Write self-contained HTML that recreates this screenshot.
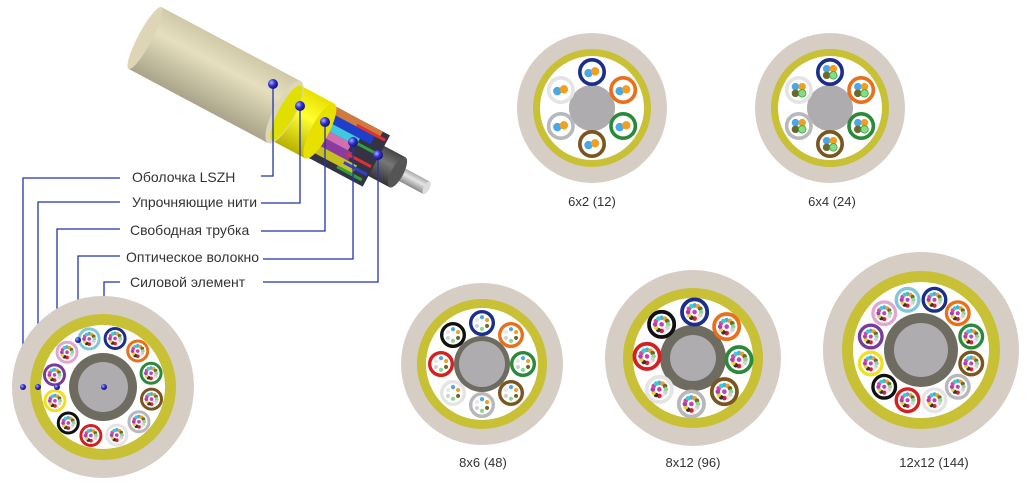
<!DOCTYPE html>
<html><head><meta charset="utf-8"><style>
html,body{margin:0;padding:0;background:#fff;}
svg{display:block;}
text{font-family:"Liberation Sans",sans-serif;fill:#333;}
</style></head><body>
<svg id="s" width="1031" height="494" viewBox="0 0 1031 494" xmlns="http://www.w3.org/2000/svg">
<defs>
<linearGradient id="jk" x1="0" y1="0" x2="0" y2="1"><stop offset="0" stop-color="#cfc9a8"/><stop offset="0.35" stop-color="#e6dfbf"/><stop offset="1" stop-color="#a9a48a"/></linearGradient>
<linearGradient id="yl" x1="0" y1="0" x2="0" y2="1"><stop offset="0" stop-color="#e8e000"/><stop offset="0.4" stop-color="#ffff30"/><stop offset="1" stop-color="#b8b000"/></linearGradient>
<linearGradient id="dk" x1="0" y1="0" x2="0" y2="1"><stop offset="0" stop-color="#444"/><stop offset="0.4" stop-color="#777"/><stop offset="1" stop-color="#333"/></linearGradient>
<linearGradient id="rd" x1="0" y1="0" x2="0" y2="1"><stop offset="0" stop-color="#aaa"/><stop offset="0.4" stop-color="#e4e4e4"/><stop offset="1" stop-color="#888"/></linearGradient>
<radialGradient id="dot" cx="0.35" cy="0.35" r="0.7"><stop offset="0" stop-color="#aab0ff"/><stop offset="0.5" stop-color="#3030d0"/><stop offset="1" stop-color="#101070"/></radialGradient>
</defs>
<!-- 3D cable -->
<g transform="translate(145,38) rotate(28)">
  <rect x="285" y="-7" width="34" height="14" fill="url(#rd)"/>
  <ellipse cx="319" cy="0" rx="3" ry="7" fill="#ddd"/>
  <rect x="240" y="-17" width="46" height="34" fill="url(#dk)"/>
  <ellipse cx="286" cy="0" rx="6" ry="17" fill="#555"/>
  <g>
    <rect x="192" y="-29" width="70" height="58" fill="#334"/>
    <rect x="192" y="-29" width="62" height="8" fill="#d07a40"/>
    <rect x="192" y="-21" width="57" height="9" fill="#1d3fcc"/>
    <rect x="192" y="-12" width="45" height="8" fill="#40c8e0"/>
    <rect x="192" y="-4" width="40" height="8" fill="#d070b0"/>
    <rect x="192" y="4" width="45" height="9" fill="#8a3aa0"/>
    <rect x="192" y="13" width="55" height="9" fill="#c8c020"/>
    <rect x="228" y="-24" width="32" height="3" fill="#e03030"/>
    <rect x="232" y="-8" width="28" height="3" fill="#30a040"/>
    <rect x="232" y="6" width="28" height="3" fill="#e03030"/>
    <rect x="234" y="15" width="26" height="3" fill="#3040d0"/>
    <rect x="230" y="22" width="28" height="3" fill="#30a040"/>
  </g>
  <rect x="158" y="-31" width="40" height="62" fill="url(#yl)"/>
  <ellipse cx="198" cy="0" rx="9" ry="31" fill="#e8e000"/>
  <rect x="0" y="-35" width="158" height="70" fill="url(#jk)"/>
  <ellipse cx="0" cy="0" rx="7" ry="35" fill="#ddd5b5"/>
  <ellipse cx="158" cy="0" rx="11" ry="35" fill="#ddd6b8"/>
  <ellipse cx="160" cy="0" rx="8" ry="31" fill="#e0e000"/>
</g>
<g id="lines" stroke="#2233aa" stroke-width="1.3" fill="none">
  <polyline points="120,178 23,178 23,387"/>
  <polyline points="120,202 38,202 38,387"/>
  <polyline points="120,229 57,229 57,387"/>
  <polyline points="120,256 78,256 78,340"/>
  <polyline points="120,282 104,282 104,387"/>
  <polyline points="261,176 273,176 273,84"/>
  <polyline points="261,203 300,203 300,106"/>
  <polyline points="261,231 325,231 325,122"/>
  <polyline points="263,259 353,259 353,142"/>
  <polyline points="263,282 378,282 378,155"/>
</g>
<text x="132" y="182" font-size="14">Оболочка LSZH</text>
<text x="132" y="207" font-size="14">Упрочняющие нити</text>
<text x="130" y="235" font-size="14">Свободная трубка</text>
<text x="126" y="262" font-size="14">Оптическое волокно</text>
<text x="130" y="287" font-size="14">Силовой элемент</text>
<text x="592" y="206" font-size="13" text-anchor="middle">6x2 (12)</text>
<text x="832" y="206" font-size="13" text-anchor="middle">6x4 (24)</text>
<text x="483" y="467" font-size="13" text-anchor="middle">8x6 (48)</text>
<text x="693" y="467" font-size="13" text-anchor="middle">8x12 (96)</text>
<text x="934" y="467" font-size="13" text-anchor="middle">12x12 (144)</text>
<g id="cs"></g>
<g id="dots"></g>
</svg>
<script>
var NS="http://www.w3.org/2000/svg";
var cs=document.getElementById("cs"),dg=document.getElementById("dots");
function c(p,x,y,r,f,s,sw){var e=document.createElementNS(NS,"circle");e.setAttribute("cx",x);e.setAttribute("cy",y);e.setAttribute("r",r);e.setAttribute("fill",f||"none");if(s){e.setAttribute("stroke",s);e.setAttribute("stroke-width",sw);}p.appendChild(e);return e;}
var TC=["#1a2e8c","#e8701a","#2a8a3a","#7a5520","#b8b8bc","#e4e4e4","#d42020","#111111","#f0e020","#7a3a9a","#e0a8d0","#80c8d8"];
var FC=["#4aa8e8","#f0a020","#6a6a30","#8ad88a","#d0d0d0","#e8e8e8","#e02030","#333","#f0d030","#a040c0","#e040a0","#30d0d0"];
function cross(cx,cy,R,yo,yi,cd,cg,n,orbit,tr,fib,start){
  c(cs,cx,cy,R,"#d6cdc5");
  c(cs,cx,cy,yo,"#c8c035");
  c(cs,cx,cy,yi,"#ffffff");
  if(cd>cg)c(cs,cx,cy,cd,"#6e6b60");
  c(cs,cx,cy,cg,"#aeacae");
  for(var i=0;i<n;i++){
    var a=(start+i*360/n)*Math.PI/180;
    var x=cx+orbit*Math.cos(a),y=cy+orbit*Math.sin(a);
    var col=TC[i];
    c(cs,x,y,tr-tr*0.13,"#fff",col,tr*0.26);
    if(fib==2){c(cs,x-tr*0.25,y+tr*0.08,tr*0.3,FC[0]);c(cs,x+tr*0.22,y-tr*0.05,tr*0.3,FC[1]);}
    else if(fib==4){var o=tr*0.24;c(cs,x-o,y-o,tr*0.27,FC[0]);c(cs,x+o,y-o,tr*0.27,FC[1]);c(cs,x-o,y+o,tr*0.27,FC[2]);c(cs,x+o,y+o,tr*0.27,FC[3],"#3a3",0.8);}
    else{var m=fib,rr=tr*0.45;for(var k=0;k<m;k++){var b=(k*360/m-90)*Math.PI/180;c(cs,x+rr*Math.cos(b),y+rr*Math.sin(b),tr*0.16,FC[k%12]);}
      if(m==12)c(cs,x,y,tr*0.16,"#c040c0");}
  }
}
cross(103,387,91,73,62,34,25,12,50,11.5,12,-76);
cross(592,108,75,59,52,0,23,6,36,14,2,-90);
cross(830,108,75,59,52,0,23,6,36,14,4,-90);
cross(482,364,81,65,56,28,23,8,41,13,6,-90);
cross(693,358,88,70,60,33,23,8,46,14.5,12,-88);
cross(921,350,98,79,68,37,27,12,52,13,12,-75);
var D=[[23,387],[38,387],[57,387],[78,340],[104,387],[273,84],[300,106],[325,122],[353,142],[378,155]];
D.forEach(function(p,i){c(dg,p[0],p[1],i<5?3:5,"url(#dot)");});
</script>
</body></html>
